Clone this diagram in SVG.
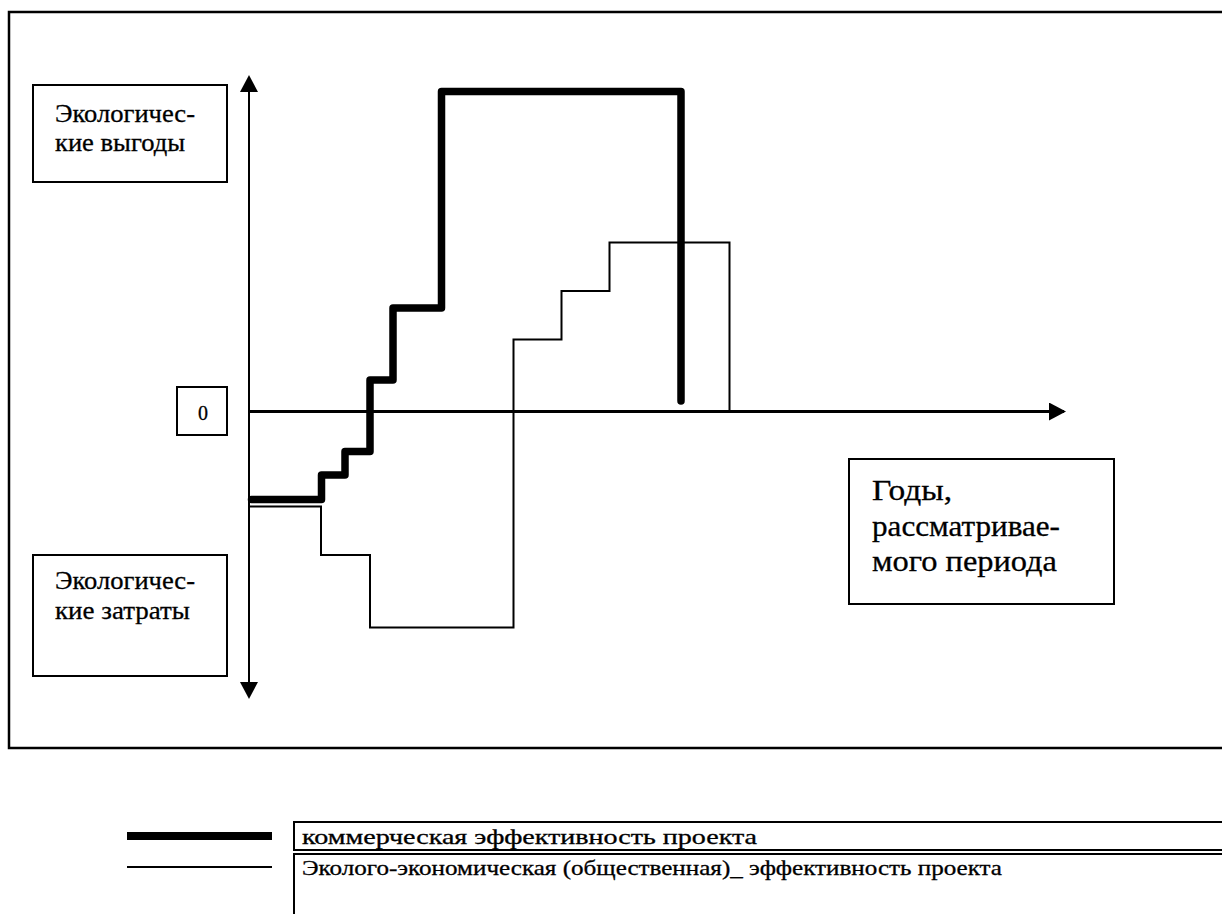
<svg xmlns="http://www.w3.org/2000/svg" width="1222" height="914" viewBox="0 0 1222 914">
<style>
.box{fill:#fff;stroke:#000;stroke-width:2}
.t{font-family:"Liberation Serif","Times New Roman",serif;fill:#000;stroke:#000;stroke-width:0.3}
.ax{stroke:#000;fill:none}
</style>
<defs>
<marker id="arr" viewBox="0 0 17 18" refX="15" refY="9" markerWidth="17" markerHeight="18" markerUnits="userSpaceOnUse" orient="auto-start-reverse">
<path d="M0,0 L17,9 L0,18 z" fill="#000"/>
</marker>
</defs>
<rect width="1222" height="914" fill="#fff"/>
<rect id="frame" x="9" y="12" width="1240" height="736" fill="none" stroke="#000" stroke-width="2.5"/>
<g id="connectors">
<line class="ax" x1="249" y1="697" x2="249" y2="77" stroke-width="2" marker-start="url(#arr)" marker-end="url(#arr)"/>
<line class="ax" x1="248" y1="411.5" x2="1064" y2="411.5" stroke-width="3" marker-end="url(#arr)"/>
</g>
<g id="series-social">
<path class="ax" stroke-width="2" d="M248,506.5 H321 V555 H370 V627.5 H513.5 V339.5 H561.5 V291 H609.5 V242.5 H729.5 V411"/>
</g>
<g id="series-commercial">
<path class="ax" stroke-width="7.5" stroke-linejoin="round" stroke-linecap="round" d="M251.5,499.5 H321.5 V475 H345 V451.5 H370 V380 H393 V308 H441.5 V91.5 H681 V401"/>
</g>
<g id="box-benefits">
<rect class="box" x="33" y="85" width="194" height="97"/>
<text class="t" x="55" y="122" font-size="26" textLength="140" lengthAdjust="spacingAndGlyphs">Экологичес-</text>
<text class="t" x="55" y="151" font-size="26" textLength="130" lengthAdjust="spacingAndGlyphs">кие выгоды</text>
</g>
<g id="box-costs">
<rect class="box" x="33" y="555" width="194" height="121"/>
<text class="t" x="55" y="589" font-size="26" textLength="140" lengthAdjust="spacingAndGlyphs">Экологичес-</text>
<text class="t" x="55" y="619" font-size="26" textLength="135" lengthAdjust="spacingAndGlyphs">кие затраты</text>
</g>
<g id="box-zero">
<rect class="box" x="177" y="387" width="50" height="48"/>
<text class="t" x="203" y="420" font-size="20" text-anchor="middle">0</text>
</g>
<g id="box-years">
<rect class="box" x="849" y="459" width="265" height="145"/>
<text class="t" x="872" y="500" font-size="29" textLength="80" lengthAdjust="spacingAndGlyphs">Годы,</text>
<text class="t" x="872" y="536" font-size="29" textLength="188" lengthAdjust="spacingAndGlyphs">рассматривае-</text>
<text class="t" x="872" y="571" font-size="29" textLength="185" lengthAdjust="spacingAndGlyphs">мого периода</text>
</g>
<g id="legend-commercial">
<line x1="127" y1="836" x2="272" y2="836" stroke="#000" stroke-width="8"/>
<rect class="box" x="294" y="822" width="940" height="28"/>
<text class="t" x="302" y="844" font-size="21" textLength="455" lengthAdjust="spacingAndGlyphs">коммерческая эффективность проекта</text>
</g>
<g id="legend-social">
<line x1="127" y1="867" x2="272" y2="867" stroke="#000" stroke-width="2"/>
<rect class="box" x="294" y="854" width="940" height="80"/>
<text class="t" x="302" y="875" font-size="21" textLength="700" lengthAdjust="spacingAndGlyphs">Эколого-экономическая (общественная)_ эффективность проекта</text>
</g>
</svg>
